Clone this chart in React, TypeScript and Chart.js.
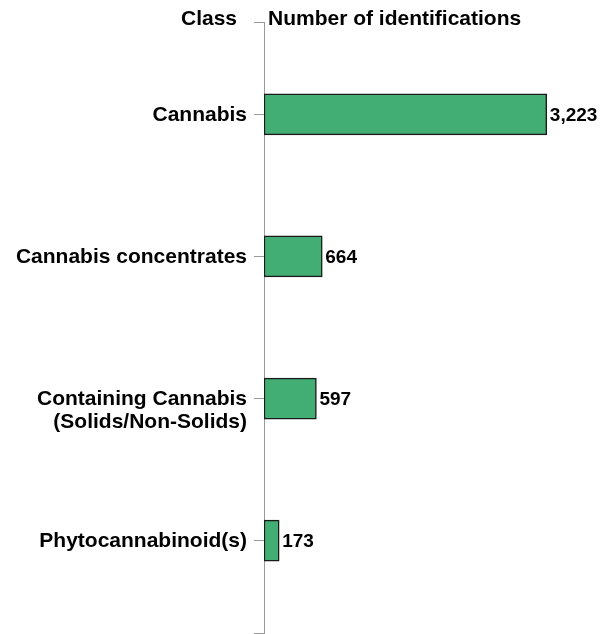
import React, { useEffect, useRef } from "react";
import { Chart, registerables } from "chart.js";

Chart.register(...registerables);

const categories: (string | string[])[] = [
  "Cannabis",
  "Cannabis concentrates",
  ["Containing Cannabis", "(Solids/Non-Solids)"],
  "Phytocannabinoid(s)",
];
const values: number[] = [3223, 664, 597, 173];
const headerLeft = "Class";
const headerRight = "Number of identifications";
const xMax = 4000;
const yMin = -0.65;
const yMax = 3.65;

const FONT = '"Liberation Sans", Arial, sans-serif';

const labelPlugin = {
  id: "customLabels",
  afterDraw(chart: any) {
    const ctx = chart.ctx;
    const yScale = chart.scales.y;
    const area = chart.chartArea;
    ctx.save();
    ctx.fillStyle = "#000";
    ctx.font = `bold 21px ${FONT}`;
    ctx.textBaseline = "alphabetic";
    ctx.textAlign = "right";
    ctx.fillText(headerLeft, area.left - 27, 24.5);
    ctx.textAlign = "left";
    ctx.fillText(headerRight, area.left + 4, 24.5);
    ctx.textAlign = "right";
    ctx.textBaseline = "middle";
    categories.forEach((c, i) => {
      const y = yScale.getPixelForValue(i);
      const lines = Array.isArray(c) ? c : [c];
      lines.forEach((ln, j) => {
        ctx.fillText(ln, area.left - 17, y + 1 + j * 23);
      });
    });
    ctx.font = `bold 19px ${FONT}`;
    ctx.textAlign = "left";
    const meta = chart.getDatasetMeta(0);
    meta.data.forEach((bar: any, i: number) => {
      ctx.fillText(values[i].toLocaleString("en-US"), bar.x + 3, bar.y + 1);
    });
    ctx.restore();
  },
};

export default function App() {
  const ref = useRef<HTMLCanvasElement>(null);
  useEffect(() => {
    if (!ref.current) return;
    const chart = new Chart(ref.current, {
      type: "bar",
      data: {
        datasets: [
          {
            data: values.map((v, i) => ({ x: v, y: i })) as any,
            backgroundColor: "#43ae74",
            borderColor: "#1a1a1a",
            borderWidth: 1.5,
            borderSkipped: false,
            barThickness: 41,
          },
        ],
      },
      options: {
        indexAxis: "y",
        responsive: false,
        animation: false,
        layout: { padding: { top: 22, bottom: 1, left: 0, right: 0 } },
        plugins: { legend: { display: false }, tooltip: { enabled: false } },
        scales: {
          x: { type: "linear", display: false, min: 0, max: xMax },
          y: {
            type: "linear",
            reverse: true,
            offset: false,
            min: yMin,
            max: yMax,
            afterBuildTicks: (scale: any) => {
              scale.ticks = [yMin, 0, 1, 2, 3, yMax].map((v) => ({ value: v }));
            },
            afterFit: (scale: any) => {
              scale.width = 264;
              scale.paddingTop = 0;
              scale.paddingBottom = 0;
            },
            ticks: { display: false },
            grid: {
              display: true,
              offset: false,
              drawOnChartArea: false,
              drawTicks: true,
              tickLength: 10,
              color: "#9a9a9a",
              lineWidth: 1,
            },
            border: { display: true, color: "#9a9a9a", width: 1 },
          },
        },
      },
      plugins: [labelPlugin],
    });
    return () => chart.destroy();
  }, []);
  return (
    <div style={{ position: "absolute", left: 0, top: 0, width: 615, height: 634 }}>
      <canvas ref={ref} width={615} height={634} />
    </div>
  );
}
